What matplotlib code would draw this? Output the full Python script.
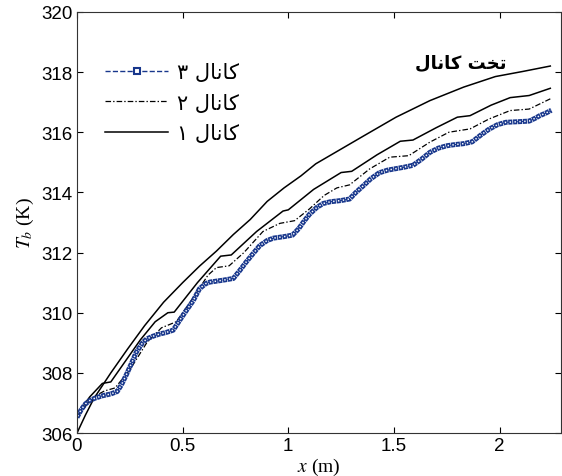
import matplotlib
matplotlib.use("Agg")
import matplotlib.pyplot as plt
from matplotlib.lines import Line2D

plt.rcParams['font.family'] = ['Liberation Sans', 'DejaVu Sans']
plt.rcParams['mathtext.fontset'] = 'stix'
plt.rcParams['lines.scale_dashes'] = False

# flat channel (smooth curve)
x_flat = [0, 0.04, 0.08, 0.16, 0.24, 0.32, 0.41, 0.50, 0.58, 0.66, 0.74, 0.82, 0.90, 0.98,
          1.06, 1.13, 1.24, 1.35, 1.51, 1.67, 1.83, 1.98, 2.11, 2.24]
T_flat = [306.0, 306.6, 307.15, 308.0, 308.8, 309.57, 310.35, 311.0, 311.55, 312.05, 312.6,
          313.1, 313.7, 314.15, 314.55, 314.95, 315.4, 315.85, 316.5, 317.05, 317.5, 317.85,
          318.02, 318.2]

# channel 1
x_ch1 = [0, 0.03, 0.06, 0.10, 0.12, 0.16, 0.30, 0.37, 0.43, 0.46, 0.57, 0.68, 0.73, 0.85,
         0.975, 1.0, 1.12, 1.25, 1.30, 1.42, 1.53, 1.59, 1.70, 1.80, 1.86, 1.96, 2.05, 2.14, 2.24]
T_ch1 = [306.5, 306.9, 307.2, 307.5, 307.65, 307.7, 309.1, 309.7, 310.0, 310.02, 311.0, 311.88,
         311.92, 312.7, 313.38, 313.42, 314.1, 314.66, 314.7, 315.25, 315.7, 315.74, 316.15,
         316.5, 316.55, 316.9, 317.15, 317.22, 317.46]

# channel 2
x_ch2 = [0, 0.04, 0.09, 0.13, 0.18, 0.25, 0.33, 0.40, 0.47, 0.55, 0.62, 0.66, 0.72, 0.79,
         0.88, 0.96, 1.03, 1.10, 1.17, 1.23, 1.29, 1.385, 1.48, 1.57, 1.67, 1.76, 1.86, 1.95,
         2.05, 2.14, 2.24]
T_ch2 = [306.5, 306.9, 307.25, 307.4, 307.5, 308.1, 309.0, 309.5, 309.7, 310.5, 311.25, 311.5,
         311.56, 312.0, 312.7, 312.97, 313.06, 313.45, 313.9, 314.15, 314.25, 314.78, 315.17,
         315.22, 315.67, 316.0, 316.11, 316.44, 316.72, 316.77, 317.11]

# channel 3
x_ch3 = [0, 0.02, 0.04, 0.06, 0.085, 0.12, 0.16, 0.19, 0.21, 0.235, 0.26, 0.28, 0.31, 0.33,
         0.36, 0.39, 0.42, 0.455, 0.49, 0.52, 0.55, 0.58, 0.61, 0.63, 0.69, 0.74, 0.77, 0.80,
         0.835, 0.865, 0.90, 0.93, 0.98, 1.02, 1.05, 1.07, 1.10, 1.135, 1.165, 1.20, 1.25,
         1.29, 1.32, 1.355, 1.39, 1.43, 1.47, 1.51, 1.55, 1.59, 1.63, 1.67, 1.71, 1.75, 1.79,
         1.83, 1.87, 1.91, 1.95, 1.99, 2.03, 2.09, 2.14, 2.17, 2.19, 2.22, 2.245]
T_ch3 = [306.52, 306.78, 306.97, 307.08, 307.16, 307.24, 307.3, 307.38, 307.6, 307.96, 308.35,
         308.68, 309.0, 309.13, 309.22, 309.29, 309.34, 309.42, 309.79, 310.1, 310.4, 310.8,
         310.97, 311.02, 311.08, 311.14, 311.4, 311.68, 311.98, 312.23, 312.4, 312.48, 312.53,
         312.58, 312.8, 313.0, 313.27, 313.5, 313.63, 313.69, 313.73, 313.78, 314.0, 314.22,
         314.45, 314.65, 314.74, 314.79, 314.84, 314.9, 315.1, 315.33, 315.47, 315.55, 315.59,
         315.62, 315.68, 315.9, 316.1, 316.25, 316.33, 316.35, 316.37, 316.47, 316.55, 316.64,
         316.73]

kanal = '\uFEDD\uFE8E\uFEE7\uFE8E\uFB90'
takht = '\uFE96\uFEA8\uFE97'
labels = ['\u06F3 ' + kanal, '\u06F2 ' + kanal, '\u06F1 ' + kanal]
flat_label = kanal + ' ' + takht

blue = '#18378c'

fig = plt.figure(figsize=(5.62, 4.77), dpi=100)
ax = fig.add_axes([0.137, 0.090, 0.861, 0.883])

ax.plot(x_flat, T_flat, color='black', lw=1.1)
ax.plot(x_ch1, T_ch1, color='black', lw=1.1)
ax.plot(x_ch2, T_ch2, color='black', lw=0.9, ls=(0, (4, 1.5, 1, 1.5)))
# channel 3: dense hollow squares along the curve
ax.plot(x_ch3, T_ch3, color=blue, lw=0.8, ls='--')
ax.plot(x_ch3, T_ch3, color=blue, lw=3.6, ls=(0, (3.0, 0.5)), dash_capstyle='butt')
ax.plot(x_ch3, T_ch3, color='white', lw=1.1, ls=(2.5, (1.0, 2.5)), dash_capstyle='butt')

ax.set_xlim(0, 2.29)
ax.set_ylim(306, 320)
ax.set_xticks([0, 0.5, 1, 1.5, 2])
ax.set_xticklabels(['0', '0.5', '1', '1.5', '2'])
ax.set_yticks(range(306, 321, 2))
ax.tick_params(direction='in', top=True, right=True, length=4, labelsize=13.5, pad=3)
for s in ax.spines.values():
    s.set_color('#333333')
    s.set_linewidth(0.8)

ax.set_xlabel('$x$ (m)', fontsize=14, family='Liberation Serif', labelpad=1)
ax.set_ylabel('$T_b$ (K)', fontsize=14, family='Liberation Serif', labelpad=4)

handles = [
    Line2D([], [], color=blue, lw=1.0, ls='--', marker='s', markersize=5,
           markerfacecolor='white', markeredgecolor=blue, markeredgewidth=1.5),
    Line2D([], [], color='black', lw=0.9, ls=(0, (4, 1.5, 1, 1.5))),
    Line2D([], [], color='black', lw=1.1),
]
leg = ax.legend(handles, labels, loc='upper left', bbox_to_anchor=(0.02, 0.925),
                frameon=False, handlelength=3.0, handletextpad=0.45,
                labelspacing=0.5, numpoints=1, prop={'family': ['DejaVu Sans'], 'size': 15})

ax.text(0.793, 0.881, flat_label, transform=ax.transAxes, ha='center', va='center',
        fontsize=13, fontweight='bold', family=['DejaVu Sans'])

fig.savefig('out.png', dpi=100)
